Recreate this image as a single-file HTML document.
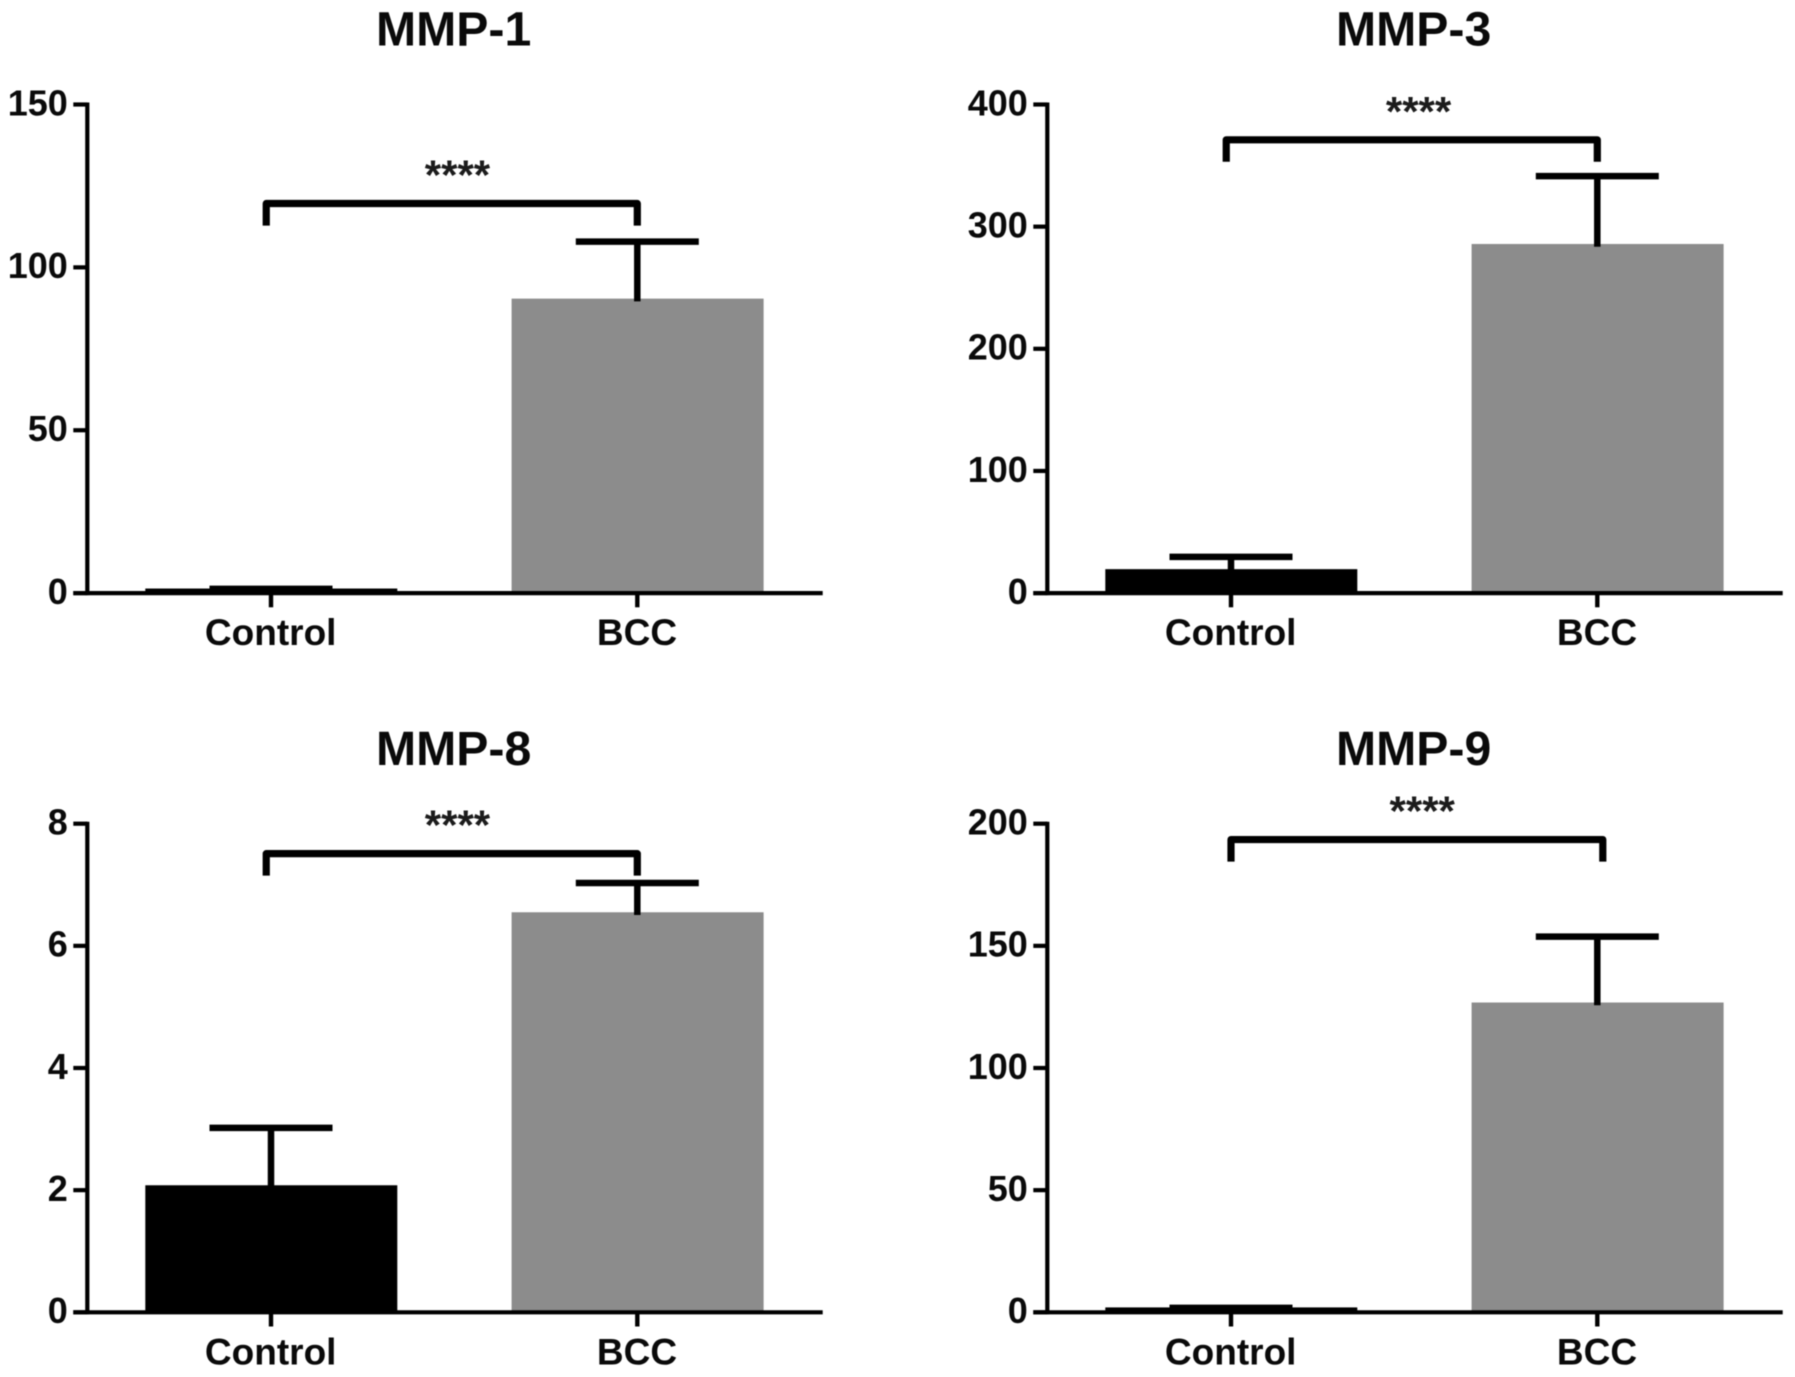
<!DOCTYPE html>
<html lang="en">
<head>
<meta charset="utf-8">
<title>MMP-1, MMP-3, MMP-8 and MMP-9 in Control and BCC</title>
<style>
  html, body { margin: 0; padding: 0; background: #fff; }
  #figure { display: block; width: 1795px; height: 1377px; filter: blur(0.6px); }
  text { font-family: "Liberation Sans", Arial, sans-serif; }
</style>
</head>
<body>
<svg id="figure" xmlns="http://www.w3.org/2000/svg" width="1795" height="1377" viewBox="0 0 1795 1377"></svg>
<script>
const panelTitles = ['MMP-1', 'MMP-3', 'MMP-8', 'MMP-9'];
const categories = ['Control', 'BCC'];
const controlMeans = [1.4, 19.6, 2.08, 2];
const controlUpper = [1.3, 29.7, 3.02, 1.8];
const bccMeans = [90.4, 285.8, 6.55, 126.8];
const bccUpper = [107.9, 341.4, 7.03, 153.8];
const yMaxima = [150, 400, 8, 200];
const yTicksMmp1 = [0, 50, 100, 150];
const yTicksMmp3 = [0, 100, 200, 300, 400];
const yTicksMmp8 = [0, 2, 4, 6, 8];
const yTicksMmp9 = [0, 50, 100, 150, 200];
const bracketTops = [119.6, 371.1, 7.51, 193.5];
const bracketFeet = [112.8, 353.1, 7.15, 184.5];
const bracketFromCategory = [-0.013, -0.013, -0.013, 0];
const bracketToCategory = [1, 1, 1, 1.015];
const starCategory = [0.509, 0.512, 0.509, 0.522];
const significance = ['****', '****', '****', '****'];

const yTickSets = [yTicksMmp1, yTicksMmp3, yTicksMmp8, yTicksMmp9];
const meanSets = [controlMeans, bccMeans];
const upperSets = [controlUpper, bccUpper];
const barColors = ['#000000', '#8c8c8c'];

const svg = document.getElementById('figure');
const NS = 'http://www.w3.org/2000/svg';

function make(tag, attrs, parent) {
  const el = document.createElementNS(NS, tag);
  for (const k in attrs) el.setAttribute(k, attrs[k]);
  parent.appendChild(el);
  return el;
}

panelTitles.forEach(function (title, p) {
  const col = p % 2;
  const row = Math.floor(p / 2);
  const axisX = 87.3 + col * 960;
  const zeroY = 593.1 + row * 719.2;
  const plotHeight = 488.6;
  const yScale = function (v) { return zeroY - (v / yMaxima[p]) * plotHeight; };
  const xScale = function (c) { return axisX + 183.7 + c * 366.3; };
  const key = title.toLowerCase();

  const g = make('g', {}, svg);
  
  

  const titleEl = make('text', { x: xScale(0.5) - 0.5, y: zeroY - 547.4, 'text-anchor': 'middle', 'font-size': 48.2, 'font-weight': 'bold', fill: '#0a0a0a' }, g);
  titleEl.textContent = title;
  
  

  categories.forEach(function (cat, i) {
    const cx = xScale(i);
    const mean = meanSets[i][p];
    const upper = upperSets[i][p];
    const slug = key + '-' + cat.toLowerCase();

    const bar = make('rect', { x: cx - 125.7, y: yScale(mean), width: 252, height: zeroY - yScale(mean), fill: barColors[i] }, g);
    
    

    const stem = make('line', { x1: cx, x2: cx, y1: yScale(mean) + 2.7, y2: yScale(upper), stroke: '#000', 'stroke-width': 6.5 }, g);
    
    

    const cap = make('line', { x1: cx - 61.5, x2: cx + 61.5, y1: yScale(upper), y2: yScale(upper), stroke: '#000', 'stroke-width': 6.5 }, g);
    
    

    const tick = make('line', { x1: cx, x2: cx, y1: zeroY, y2: zeroY + 14.2, stroke: '#000', 'stroke-width': 4.4 }, g);
    
    

    const label = make('text', { x: cx - 0.3, y: zeroY + 52, 'text-anchor': 'middle', 'font-size': 37, 'font-weight': 'bold', fill: '#0a0a0a' }, g);
    label.textContent = cat;
    
    
  });

  const yAxis = make('line', { x1: axisX, x2: axisX, y1: yScale(yMaxima[p]) - 2, y2: zeroY + 2, stroke: '#000', 'stroke-width': 4.2 }, g);
  
  

  const xAxis = make('line', { x1: axisX - 14, x2: axisX + 735.4, y1: zeroY, y2: zeroY, stroke: '#000', 'stroke-width': 4.2 }, g);
  
  

  yTickSets[p].forEach(function (v) {
    const ty = yScale(v);
    const tick = make('line', { x1: axisX - 14, x2: axisX, y1: ty, y2: ty, stroke: '#000', 'stroke-width': 4.2 }, g);
    
    

    const label = make('text', { x: axisX - 19.5, y: ty + 10.8, 'text-anchor': 'end', 'font-size': 36, 'font-weight': 'bold', fill: '#0a0a0a' }, g);
    label.textContent = String(v);
    
    
  });

  const bx1 = xScale(bracketFromCategory[p]);
  const bx2 = xScale(bracketToCategory[p]);
  const by = yScale(bracketTops[p]);
  const bf = yScale(bracketFeet[p]);
  const bracket = make('path', { d: 'M' + bx1 + ' ' + bf + 'V' + by + 'H' + bx2 + 'V' + bf, fill: 'none', stroke: '#000', 'stroke-width': 7.2, 'stroke-linejoin': 'round' }, g);
  
  

  const stars = make('text', { x: xScale(starCategory[p]), y: by - 14, 'text-anchor': 'middle', 'font-size': 42, 'font-weight': 'bold', fill: '#1c1c1c' }, g);
  stars.textContent = significance[p];
  
  
});
</script>
</body>
</html>
